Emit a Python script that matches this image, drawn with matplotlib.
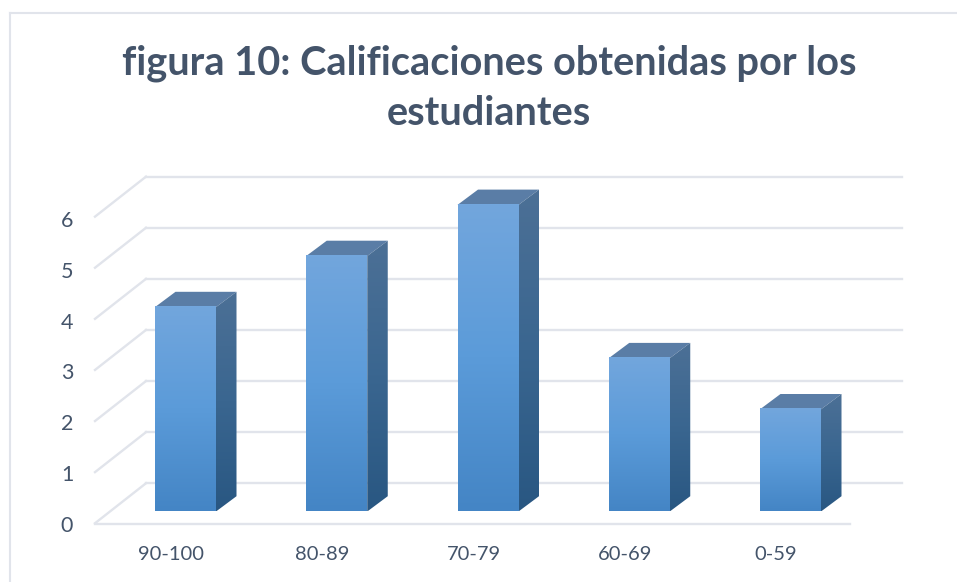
import numpy as np
import matplotlib
matplotlib.use('Agg')
import matplotlib.pyplot as plt
from matplotlib.colors import LinearSegmentedColormap
from matplotlib.patches import Polygon

# Data
categories = ['90-100', '80-89', '70-79', '60-69', '0-59']
values = [4, 5, 6, 3, 2]
y_ticks = [0, 1, 2, 3, 4, 5, 6]
title = 'figura 10: Calificaciones obtenidas por los\nestudiantes'

W, H = 957, 582
plt.rcParams['font.family'] = ['Lato', 'DejaVu Sans']

# one category = 151.25 px, one value unit = 51.1 px
PX = 151.25
PY = 51.1
dx = 20.5 / PX    # bar depth
dy = 15.3 / PY
half = 30.5 / PX
fx = 51 / PX      # floor depth
fy = 40 / PY
y0 = -12 / PY     # front edge of the floor
x_left = -90.5 / PX
x_right = 664.5 / PX
x_back = 716 / PX

text_color = '#44546A'
grid_color = '#E1E4EB'

fig = plt.figure(figsize=(W / 100, H / 100), dpi=100)
ax = fig.add_axes([0, 0, 1, 1])
xlim = (-185.5 / PX, (W - 185.5) / PX)
ylim = (-(H - 511.5) / PY, 511.5 / PY)
ax.axis('off')

front = LinearSegmentedColormap.from_list('front', ['#72A6DD', '#5B9BD9', '#4485C5'])
side = LinearSegmentedColormap.from_list('side', ['#4C7096', '#3A6690', '#295782'])
grad = np.linspace(0, 1, 128).reshape(-1, 1)

# gridlines: back wall plus the slanted part on the left
for t in y_ticks:
    ya = y0 + t * 1.0 + 0.005
    yb = ya + fy
    ax.plot([x_left, x_left + fx], [ya, yb], color=grid_color, lw=1.7, zorder=1)
    ax.plot([x_left + fx, x_back], [yb, yb], color=grid_color, lw=1.7, zorder=1)
# front edge of the floor
ax.plot([x_left, x_right], [y0, y0], color=grid_color, lw=1.7, zorder=1)

for i, v in enumerate(values):
    l, r = i - half, i + half
    # top face
    ax.add_patch(Polygon([(l, v), (r, v), (r + dx, v + dy), (l + dx, v + dy)],
                         facecolor='#5A7DA6', edgecolor='none', zorder=3))
    # side face
    im = ax.imshow(grad, cmap=side, extent=[r, r + dx, 0, v + dy], aspect='auto', zorder=3)
    clip = Polygon([(r, 0), (r + dx, dy), (r + dx, v + dy), (r, v)], transform=ax.transData)
    im.set_clip_path(clip)
    # front face
    ax.imshow(grad, cmap=front, extent=[l, r, 0, v], aspect='auto', zorder=4)
    ax.text(i - 14.5 / PX, y0 - 31 / PY, categories[i], ha='center', va='center',
            fontsize=14.5, color=text_color)

ax.set_xlim(*xlim)
ax.set_ylim(*ylim)

for t in y_ticks:
    ax.text(x_left - 28 / PX, y0 - 2 / PY + t * 50.7 / PY, str(t), ha='center', va='center',
            fontsize=15.5, color=text_color)

# chart frame
fig.add_artist(plt.Line2D([9.5 / W, 9.5 / W], [0, 1 - 13 / H], color=grid_color, lw=1.5))
fig.add_artist(plt.Line2D([9.5 / W, 1], [1 - 13 / H, 1 - 13 / H], color=grid_color, lw=1.5))

fig.text(489 / W, 1 - 88 / H, title, ha='center', va='center', fontsize=28.6,
         fontweight='bold', color=text_color, linespacing=1.42)

fig.savefig('out.png', dpi=100)
